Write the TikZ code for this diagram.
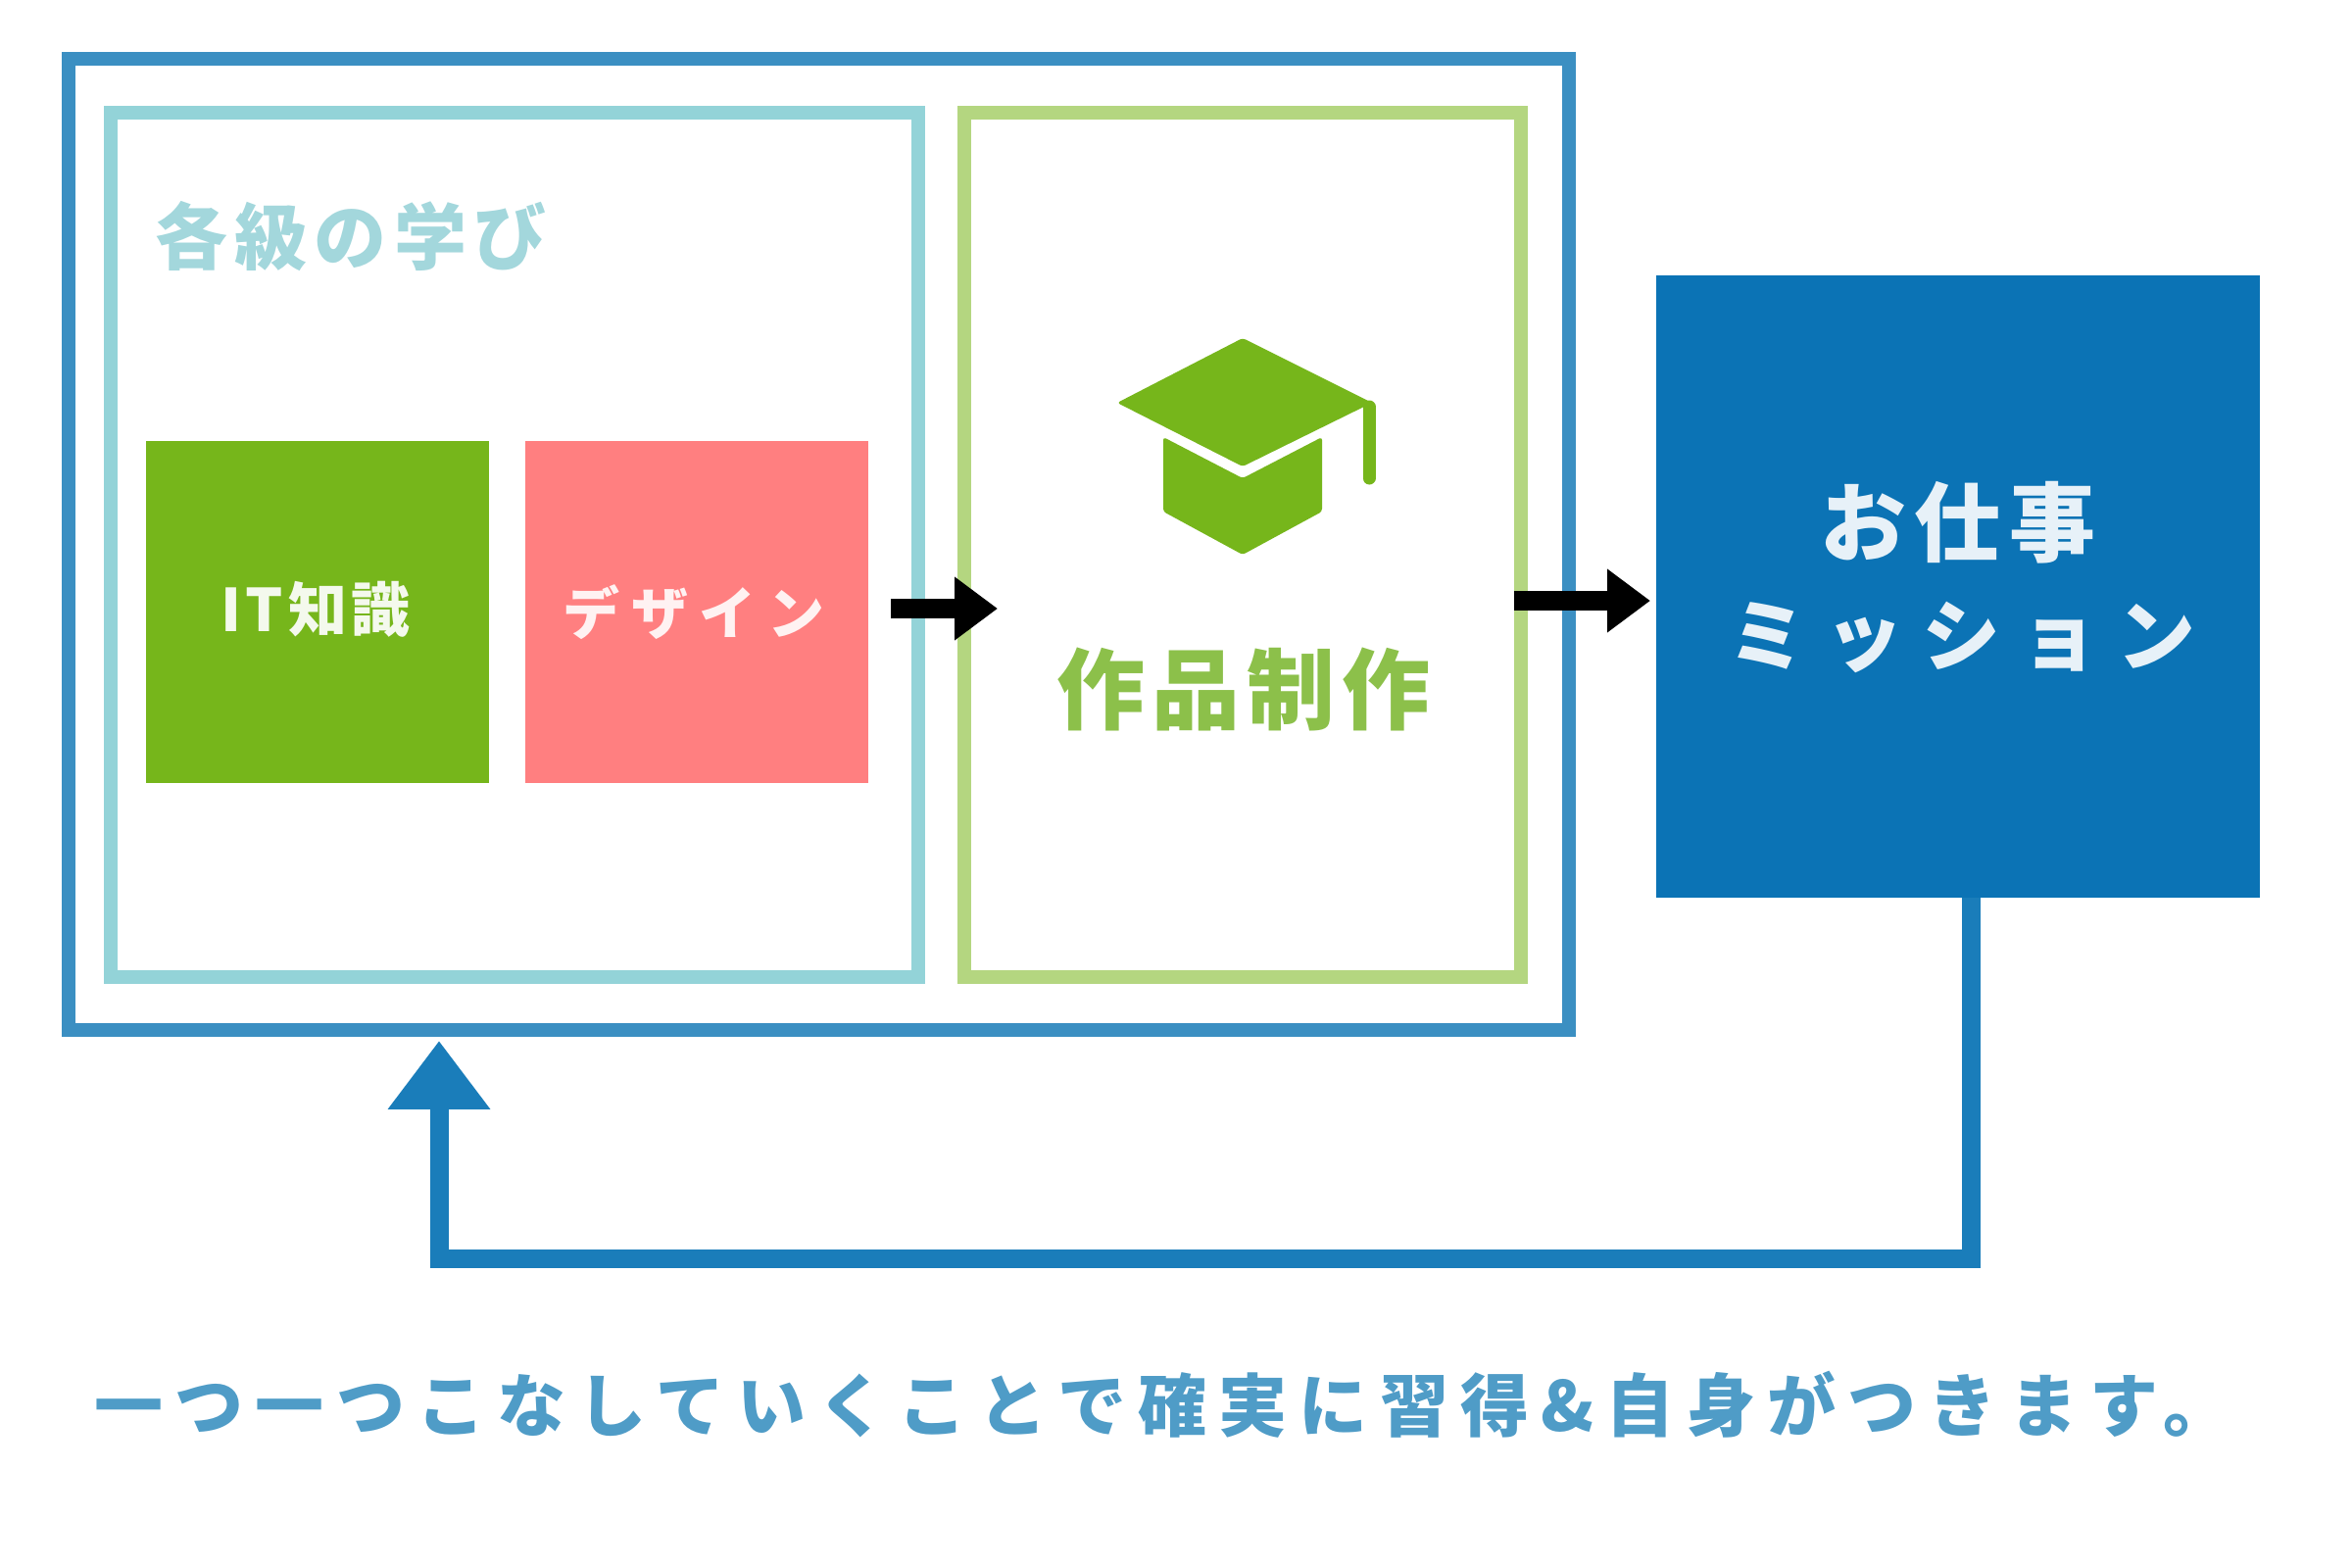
\documentclass[tikz,border=0pt]{standalone}
\usepackage{fontspec}
\setmainfont{Noto Sans CJK JP}
\usetikzlibrary{arrows.meta}
\definecolor{outerblue}{HTML}{3B8FC2}
\definecolor{flowblue}{HTML}{1A7DBA}
\definecolor{navy}{HTML}{0B73B5}
\definecolor{tealline}{HTML}{93D3D8}
\definecolor{tealtext}{HTML}{A3D7DC}
\definecolor{leaf}{HTML}{76B61B}
\definecolor{leaftext}{HTML}{8CC04A}
\definecolor{leafline}{HTML}{B4D680}
\definecolor{rose}{HTML}{FF7F80}
\definecolor{captionblue}{HTML}{4F9CC7}
\newcommand{\jpt}[2]{\fontsize{#1}{#1}\selectfont\bfseries\addfontfeature{LetterSpace=#2}}
\tikzset{
  x=1pt,y=-1pt,
  frame/.style={draw=#1,fill=white,line width=14pt,inner sep=0pt,outer sep=0pt,anchor=north west},
  tile/.style={fill=#1,draw=none,inner sep=0pt,outer sep=0pt,anchor=north west},
  label/.style={inner sep=0pt,align=center},
  blackarrow/.style={line width=20pt,black,-{Triangle[length=44pt,width=62pt]}},
  backarrow/.style={line width=19pt,flowblue,miter limit=10,-{Triangle[length=70pt,width=100pt]}},
}
\begin{document}
\begin{tikzpicture}
\useasboundingbox (0,0) rectangle (2400,1600);
\fill[white] (0,0) rectangle (2400,1600);
\node[frame=outerblue,minimum width=1531pt,minimum height=991pt] (outer) at (70,60) {};
\node[frame=tealline,minimum width=824pt,minimum height=882pt] (learn) at (113,115) {};
\node[frame=leafline,minimum width=568pt,minimum height=882pt] (make) at (984,115) {};
\node[tile=leaf,minimum width=350pt,minimum height=349pt] (it) at (149,450) {};
\node[tile=rose,minimum width=350pt,minimum height=349pt] (design) at (536,450) {};
\node[tile=navy,minimum width=616pt,minimum height=635pt] (mission) at (1690,281) {};
\node[label,text=tealtext] (learntitle) at (358,241) {\jpt{74}{10}各級の学び};
\node[label,text=white!92!leaf] (ittext) at (322,622) {\jpt{60}{8}IT知識};
\node[label,text=white!90!rose] (designtext) at (708,625) {\jpt{58}{20}デザイン};
\node[label,text=leaftext] (maketext) at (1269,703) {\jpt{90}{8}作品制作};
\node[label,text=white!90!navy] (missiontext1) at (1998,533) {\jpt{88}{10}お仕事};
\node[label,text=white!90!navy] (missiontext2) at (2002,650) {\jpt{80}{24}ミッション};
\node[label,text=captionblue] (caption) at (1187,1433) {\jpt{70}{17.5}一つ一つこなしていくことで確実に習得\&自身がつきます。};
% mortarboard icon
\fill[leaf,rounded corners=3pt] (1268,345) -- (1400,411) -- (1268,476) -- (1140,411) -- cycle;
\fill[leaf,rounded corners=3pt] (1187,446) -- (1268,488) -- (1349,446) -- (1349,522) -- (1268,566) -- (1187,522) -- cycle;
\draw[leaf,line width=13pt,line cap=round] (1397,415) -- (1397,488);
% connectors
\coordinate (a1s) at (909,621);
\coordinate (a1e) at (1018,621);
\coordinate (a2s) at (1545,613);
\coordinate (a2e) at (1684,613);
\draw[blackarrow] (a1s) -- (a1e);
\draw[blackarrow] (a2s) -- (a2e);
\coordinate (fbs) at (2011,916);
\coordinate (fbe) at (448,1062);
\draw[backarrow] (fbs) |- (1200,1284) -| (fbe);
\end{tikzpicture}
\end{document}
